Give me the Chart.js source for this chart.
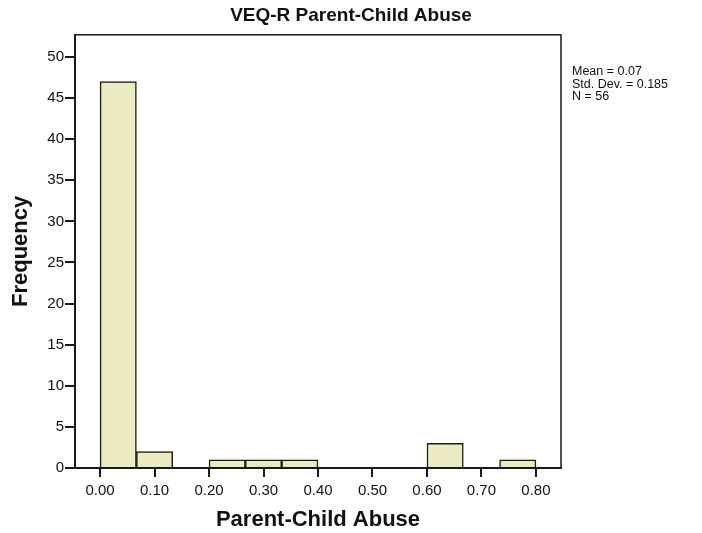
<!DOCTYPE html>
<html>
<head>
<meta charset="utf-8">
<script src="https://cdn.jsdelivr.net/npm/chart.js@4/dist/chart.umd.min.js"></script>
<style>
  html, body { margin: 0; padding: 0; background: #fff; }
  #wrap { width: 702px; height: 533px; }
</style>
</head>
<body>
<div id="wrap"><canvas id="hist" width="702" height="533"></canvas></div>
<script>
/* ============ Data ============ */
const chartTitle = "VEQ-R Parent-Child Abuse";
const xTitle = "Parent-Child Abuse";
const yTitle = "Frequency";
const binEdges = [0.0000, 0.0667, 0.1333, 0.2000, 0.2667, 0.3333, 0.4000, 0.4667, 0.5333, 0.6000, 0.6667, 0.7333, 0.8000];
const counts = [47, 2, 0, 1, 1, 1, 0, 0, 0, 3, 0, 1];
const xTicks = [0.0, 0.1, 0.2, 0.3, 0.4, 0.5, 0.6, 0.7, 0.8];
const yTicks = [0, 5, 10, 15, 20, 25, 30, 35, 40, 45, 50];
const statsLines = ["Mean = 0.07", "Std. Dev. = 0.185", "N = 56"];

/* ============ Style ============ */
const FONT = "'Liberation Sans', Arial, sans-serif";
const INK = "#1a1a1a";
const FILL = "#ECEAC1";

// bin centres for the bar positions
const points = counts.map((c, i) => ({x: (binEdges[i] + binEdges[i + 1]) / 2, y: c}));

/* ============ Plugins ============ */
const frameBox = {
    id: "frameBox",
    afterDraw(chart) {
        const {ctx, chartArea: a} = chart;
        ctx.save();
        ctx.strokeStyle = INK;
        ctx.lineWidth = 1.5;
        ctx.strokeRect(a.left, a.top, a.right - a.left, a.bottom - a.top);
        // stats block at the right
        ctx.fillStyle = "#111";
        ctx.font = "12.5px " + FONT;
        ctx.textBaseline = "middle";
        ctx.textAlign = "left";
        statsLines.forEach((s, i) => ctx.fillText(s, a.right + 11, 72 + i * 12.5));
        ctx.restore();
    }
};

new Chart(document.getElementById("hist"), {
    type: "bar",
    data: {
        datasets: [{
            data: points,
            backgroundColor: FILL,
            borderColor: INK,
            borderWidth: 1.5,
            borderSkipped: "start",
            barPercentage: 1,
            categoryPercentage: 1,
            xAxisID: "x",
            yAxisID: "y"
        }]
    },
    options: {
        animation: false,
        responsive: false,
        maintainAspectRatio: false,
        layout: {padding: 0},
        plugins: {
            legend: {display: false},
            tooltip: {enabled: false},
            title: {
                display: true,
                text: chartTitle,
                color: "#111",
                font: {family: FONT, size: 19, weight: "bold"},
                padding: {top: 4, bottom: 8}
            }
        },
        scales: {
            x: {
                type: "linear",
                offset: false,
                min: -0.046,
                max: 0.846,
                afterBuildTicks: s => { s.ticks = xTicks.map(v => ({value: v})); },
                afterFit: s => { s.height = 65; },
                ticks: {
                    color: "#111",
                    font: {family: FONT, size: 15},
                    padding: 5,
                    callback: v => Number(v).toFixed(2)
                },
                grid: {offset: false, drawOnChartArea: false, drawTicks: true, tickLength: 9, color: INK, lineWidth: 2},
                border: {display: true, color: INK, width: 2},
                title: {
                    display: true,
                    text: xTitle,
                    color: "#111",
                    font: {family: FONT, size: 22, weight: "bold"},
                    padding: {top: 6, bottom: 0}
                }
            },
            y: {
                type: "linear",
                min: 0,
                max: 52.7,
                afterBuildTicks: s => { s.ticks = yTicks.map(v => ({value: v})); },
                afterFit: s => { s.width = 75; },
                ticks: {
                    color: "#111",
                    font: {family: FONT, size: 15},
                    padding: 1
                },
                grid: {drawOnChartArea: false, drawTicks: true, tickLength: 10, color: INK, lineWidth: 2},
                border: {display: true, color: INK, width: 2},
                title: {
                    display: true,
                    text: yTitle,
                    color: "#111",
                    font: {family: FONT, size: 22, weight: "bold"},
                    padding: {top: 8, bottom: 0}
                }
            },
            yRight: {
                position: "right",
                display: true,
                afterFit: s => { s.width = 141; },
                ticks: {display: false},
                grid: {display: false},
                border: {display: false}
            }
        }
    },
    plugins: [frameBox]
});
</script>
</body>
</html>
